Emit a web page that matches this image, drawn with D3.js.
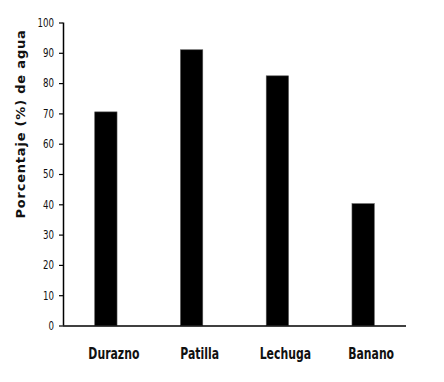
<!DOCTYPE html>
<html><head><meta charset="utf-8">
<script src="https://cdn.jsdelivr.net/npm/d3@7"></script>
<style>body{margin:0;background:#fff}svg{display:block}</style>
</head><body>
<script>
const categories = ["Durazno", "Patilla", "Lechuga", "Banano"];
const values = [70.5, 91, 82.4, 40.2];
const yTicks = [0, 10, 20, 30, 40, 50, 60, 70, 80, 90, 100];
const yTitle = "Porcentaje (%) de agua";

const W = 444, H = 382;
const svg = d3.select("body").append("svg").attr("width", W).attr("height", H);
const mLeft = 63, mRight = 406, mTop = 22.5, mBottom = 325.5;
const cond = "'DejaVu Sans Condensed', 'DejaVu Sans', sans-serif";

function squeeze(sel, f) {
  sel.each(function () {
    const L = this.getComputedTextLength();
    d3.select(this).attr("textLength", L * f).attr("lengthAdjust", "spacingAndGlyphs");
  });
}

const x = d3.scaleBand().domain(categories).range([mLeft, mRight]).paddingInner(0.74).paddingOuter(0.37);
const y = d3.scaleLinear().domain([0, 100]).range([mBottom, mTop]);

svg.selectAll("rect.bar").data(values).enter().append("rect")
  .attr("class", "bar")
  .attr("x", (d, i) => x(categories[i]))
  .attr("width", x.bandwidth())
  .attr("y", d => y(d))
  .attr("height", d => y(0) - y(d))
  .attr("fill", "#000")
  .attr("stroke", "#555").attr("stroke-width", 0.6);

const yAxis = d3.axisLeft(y).tickValues(yTicks).tickSize(4).tickPadding(5).tickFormat(d3.format("d"));
const gy = svg.append("g").attr("transform", `translate(${mLeft},0)`).call(yAxis);
gy.select(".domain").attr("stroke", "#000").attr("stroke-width", 1.5).attr("d", `M0.5,${mTop}V${mBottom}`);
gy.selectAll(".tick line").attr("stroke", "#000").attr("stroke-width", 1.2);
gy.selectAll(".tick text").attr("font-family", cond).attr("font-size", 12).attr("fill", "#111")
  .call(squeeze, 0.8);

const xAxis = d3.axisBottom(x).tickSize(0).tickPadding(0);
const gx = svg.append("g").attr("transform", `translate(0,${mBottom})`).call(xAxis);
gx.select(".domain").attr("stroke", "#000").attr("stroke-width", 1.5).attr("d", `M${mLeft},0.5H${mRight}`);
gx.selectAll(".tick text")
  .attr("font-family", cond)
  .attr("font-weight", "bold").attr("font-size", 15.5).attr("fill", "#111")
  .attr("dx", 8).attr("y", 33).attr("dy", 0)
  .call(squeeze, 0.78);

svg.append("text")
  .attr("transform", `translate(25,124) rotate(-90)`)
  .attr("text-anchor", "middle")
  .attr("font-family", "Verdana, 'DejaVu Sans'")
  .attr("font-weight", "bold").attr("font-size", 13).attr("letter-spacing", 0.8).attr("fill", "#111")
  .text(yTitle);
</script>
</body></html>
